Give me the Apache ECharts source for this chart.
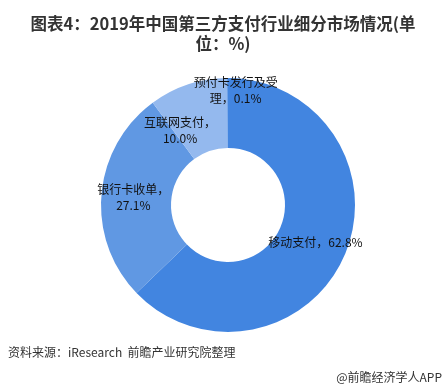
<!DOCTYPE html>
<html><head><meta charset="utf-8">
<script src="https://cdn.jsdelivr.net/npm/echarts@6/dist/echarts.min.js"></script>
<style>html,body{margin:0;padding:0;background:#fff}#c{width:446px;height:391px}</style>
</head><body><div id="c"></div>
<script>
const titleText = '图表4：2019年中国第三方支付行业细分市场情况(单\n位：%)';
const categories = ['移动支付', '银行卡收单', '互联网支付', '预付卡发行及受理'];
const values = [62.8, 27.1, 10.0, 0.1];
const sourceText = '资料来源：iResearch  前瞻产业研究院整理';
const brandText = '@前瞻经济学人APP';

const colors = ['#4285e0', '#6098e3', '#94b9ee', '#4285e0'];
const labelOffsets = [[0, 0], [0, 0], [-18, 16], [8, -20]];

function labelText(p) {
  const v = p.value.toFixed(1) + '%';
  if (p.dataIndex === 0) return p.name + '，' + v;
  if (p.dataIndex === 3) return p.name.slice(0, 7) + '\n' + p.name.slice(7) + '，' + v;
  return p.name + '，\n' + v;
}

const chart = echarts.init(document.getElementById('c'), null, {renderer: 'canvas'});
chart.setOption({
  animation: false,
  backgroundColor: '#fff',
  title: {
    text: titleText, left: 'center', top: 9,
    textStyle: {fontFamily: 'Noto Sans CJK SC', fontSize: 16.5, fontWeight: 'bold', color: '#333', lineHeight: 20}
  },
  graphic: [
    {type: 'text', left: 8, top: 346, style: {text: sourceText, fontFamily: 'Noto Sans CJK SC', fontSize: 12, fill: '#333'}},
    {type: 'text', right: 4, top: 371, style: {text: brandText, fontFamily: 'Noto Sans CJK SC', fontSize: 12, fill: '#333'}}
  ],
  series: [{
    type: 'pie',
    center: [228, 205],
    radius: [57, 127],
    startAngle: 90,
    clockwise: true,
    label: {
      position: 'inside',
      formatter: labelText,
      fontFamily: 'Noto Sans CJK SC',
      fontSize: 12,
      color: '#111',
      lineHeight: 16
    },
    labelLayout: function (p) {
      const o = labelOffsets[p.dataIndex];
      return {dx: o[0], dy: o[1]};
    },
    labelLine: {show: false},
    emphasis: {disabled: true},
    data: categories.map((n, i) => ({name: n, value: values[i], itemStyle: {color: colors[i]}}))
  }]
});
</script></body></html>
